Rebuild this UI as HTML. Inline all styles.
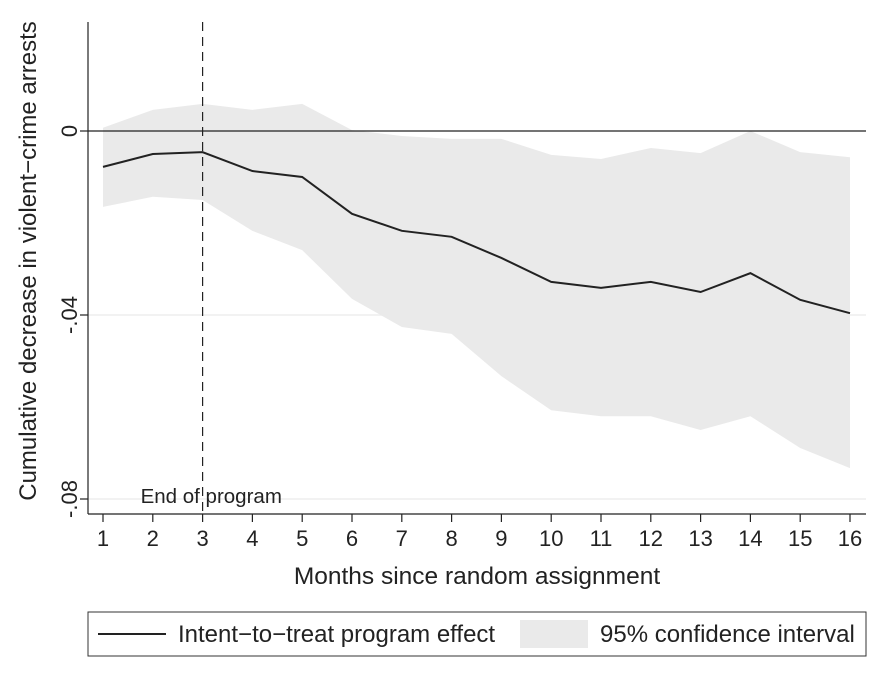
<!DOCTYPE html>
<html><head><meta charset="utf-8"><style>
body{margin:0;background:#fff;font-family:"Liberation Sans",sans-serif}
svg text{font-family:"Liberation Sans",sans-serif;fill:#222}
</style></head><body>
<svg id="chart" width="892" height="684" viewBox="0 0 892 684">
<g id="plot"></g>
<g>
<rect x="88" y="612" width="778" height="44" fill="#fff" stroke="#333" stroke-width="1"/>
<line x1="98" y1="634" x2="166" y2="634" stroke="#222" stroke-width="2"/>
<text x="178" y="642" font-size="24">Intent−to−treat program effect</text>
<rect x="520" y="620" width="68" height="28" fill="#eaeaea"/>
<text x="600" y="642" font-size="24">95% confidence interval</text>
</g>
<text x="477" y="584" font-size="24.5" text-anchor="middle">Months since random assignment</text>
<text transform="translate(36,261) rotate(-90)" font-size="24" text-anchor="middle">Cumulative decrease in violent−crime arrests</text>
</svg>
<script>
const months=[1,2,3,4,5,6,7,8,9,10,11,12,13,14,15,16];
const effect=[-0.0078,-0.0050,-0.0046,-0.0087,-0.0100,-0.0180,-0.0217,-0.0230,-0.0276,-0.0328,-0.0341,-0.0328,-0.0350,-0.0309,-0.0367,-0.0396];
const upper=[0.0007,0.0046,0.0059,0.0046,0.0059,0.0002,-0.0011,-0.0017,-0.0017,-0.0052,-0.0061,-0.0037,-0.0048,0.0000,-0.0046,-0.0057];
const lower=[-0.0165,-0.0143,-0.0150,-0.0217,-0.0259,-0.0365,-0.0426,-0.0441,-0.0533,-0.0607,-0.0620,-0.0620,-0.0650,-0.0620,-0.0689,-0.0733];
const yTicks=[0,-0.04,-0.08];
const yTickLabels=["0","-.04","-.08"];
const programEnd=3;
const X=m=>103+(m-1)*(850-103)/15;
const Y=v=>131-v*4600;
const NS="http://www.w3.org/2000/svg";
const g=document.getElementById('plot');
function mk(t,a){const e=document.createElementNS(NS,t);for(const k in a)e.setAttribute(k,a[k]);g.appendChild(e);return e;}
yTicks.forEach((v,i)=>{if(v!==0){const l=mk('line',{x1:88,x2:866,y1:Y(v),y2:Y(v),stroke:'#eee','stroke-width':1.5});

}});
let pts=months.map((m,i)=>X(m)+','+Y(upper[i])).concat(months.slice().reverse().map((m,j)=>X(m)+','+Y(lower[months.length-1-j])));
const band=mk('polygon',{points:pts.join(' '),fill:'#eaeaea'});


const z=mk('line',{x1:88,x2:866,y1:Y(0),y2:Y(0),stroke:'#222','stroke-width':1.2});


const d=mk('line',{x1:X(programEnd),x2:X(programEnd),y1:22,y2:514,stroke:'#222','stroke-width':1.2,'stroke-dasharray':'9,6'});


const et=mk('text',{x:X(programEnd)-62,y:503,'font-size':20.5});et.textContent='End of program';


const ln=mk('polyline',{points:months.map((m,i)=>X(m)+','+Y(effect[i])).join(' '),fill:'none',stroke:'#222','stroke-width':2});


const ya=mk('line',{x1:88,x2:88,y1:22,y2:514,stroke:'#222','stroke-width':1.2});


const xa=mk('line',{x1:88,x2:866,y1:514,y2:514,stroke:'#222','stroke-width':1.2});


yTicks.forEach((v,i)=>{const t=mk('line',{x1:80,x2:88,y1:Y(v),y2:Y(v),stroke:'#222','stroke-width':1.2});


const tx=mk('text',{transform:`translate(77,${Y(v)}) rotate(-90)`,'font-size':22,'text-anchor':'middle'});tx.textContent=yTickLabels[i];

});
months.forEach(m=>{const t=mk('line',{x1:X(m),x2:X(m),y1:514,y2:522,stroke:'#222','stroke-width':1.2});


const tx=mk('text',{x:X(m),y:546,'font-size':22,'text-anchor':'middle'});tx.textContent=m;

});
</script>
</body></html>
